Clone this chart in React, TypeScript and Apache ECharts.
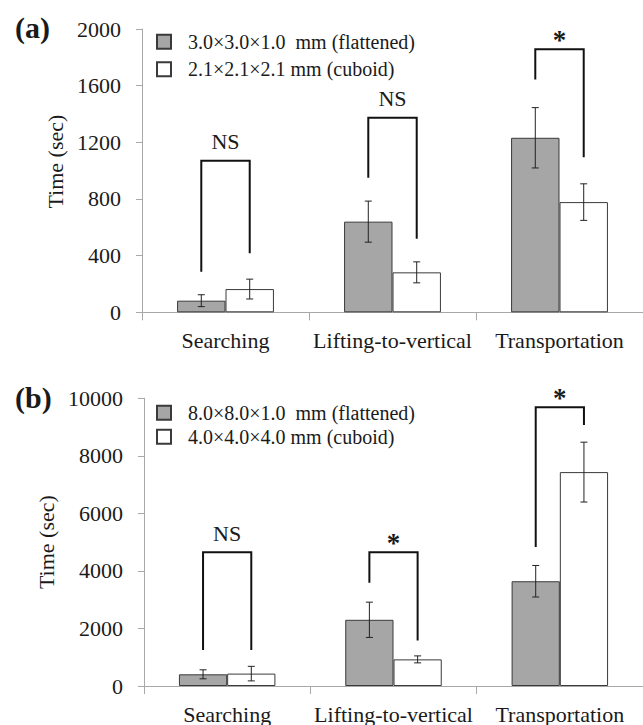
import React, { useEffect, useRef } from "react";
import * as echarts from "echarts";

const categories = ["Searching", "Lifting-to-vertical", "Transportation"];

const namesA = ["3.0×3.0×1.0  mm (flattened)", "2.1×2.1×2.1 mm (cuboid)"];
const namesB = ["8.0×8.0×1.0  mm (flattened)", "4.0×4.0×4.0 mm (cuboid)"];

const flatA = [82, 640, 1232];
const flatErrA = [42, 145, 213];
const cubeA = [164, 282, 778];
const cubeErrA = [70, 74, 129];

const flatB = [406, 2300, 3640];
const flatErrB = [156, 613, 548];
const cubeB = [430, 925, 7432];
const cubeErrB = [253, 121, 1040];

const yAxisA = { min: 0, max: 2000, interval: 400 };
const yAxisB = { min: 0, max: 10000, interval: 2000 };

// [category index, bracket top, left leg bottom, right leg bottom]
const bracketsA = [
  [0, 1070, 287, 416],
  [1, 1373, 950, 519],
  [2, 1857, 1644, 1094],
];
const bracketLabelsA = ["NS", "NS", "*"];
const bracketsB = [
  [0, 4645, 1248, 1248],
  [1, 4645, 3584, 1584],
  [2, 9686, 4832, 9072],
];
const bracketLabelsB = ["NS", "*", "*"];

const FONT = "Liberation Serif";
const TEXT = "#1a1a1a";
const AXIS = "#a8a8a8";
const BAR_FRAC = 0.29;

function errorSeries(idx: number, vals: number[], errs: number[], side: number) {
  return {
    type: "custom",
    xAxisIndex: idx,
    yAxisIndex: idx,
    silent: true,
    z: 5,
    encode: { x: 0, y: [1, 2] },
    data: vals.map((v, i) => [i, v - errs[i], v + errs[i]]),
    renderItem: (_p: any, api: any) => {
      const i = api.value(0);
      const lo = api.coord([i, api.value(1)]);
      const hi = api.coord([i, api.value(2)]);
      const bw = api.size([1, 0])[0] * BAR_FRAC;
      const x = lo[0] + (side * bw) / 2;
      const cap = 3.5;
      const st = { stroke: "#222", lineWidth: 1 };
      return {
        type: "group",
        children: [
          { type: "line", shape: { x1: x, y1: lo[1], x2: x, y2: hi[1] }, style: st },
          { type: "line", shape: { x1: x - cap, y1: lo[1], x2: x + cap, y2: lo[1] }, style: st },
          { type: "line", shape: { x1: x - cap, y1: hi[1], x2: x + cap, y2: hi[1] }, style: st },
        ],
      };
    },
  };
}

function bracketSeries(idx: number, data: number[][], labels: string[]) {
  return {
    type: "custom",
    xAxisIndex: idx,
    yAxisIndex: idx,
    silent: true,
    z: 6,
    encode: { x: 0, y: [1, 2, 3] },
    data,
    renderItem: (p: any, api: any) => {
      const i = api.value(0);
      const top = api.coord([i, api.value(1)]);
      const lb = api.coord([i, api.value(2)]);
      const rb = api.coord([i, api.value(3)]);
      const bw = api.size([1, 0])[0] * BAR_FRAC;
      const xl = top[0] - bw / 2;
      const xr = top[0] + bw / 2;
      const label = labels[p.dataIndex];
      const star = label === "*";
      return {
        type: "group",
        children: [
          {
            type: "polyline",
            shape: { points: [[xl, lb[1]], [xl, top[1]], [xr, top[1]], [xr, rb[1]]] },
            style: { stroke: "#111", lineWidth: 2, fill: "none" },
          },
          {
            type: "text",
            x: top[0],
            y: star ? top[1] - 9 : top[1] - 19,
            style: {
              text: label,
              fontSize: star ? 27 : 22,
              fontWeight: star ? "bold" : "normal",
              fontFamily: FONT,
              fill: TEXT,
              align: "center",
              verticalAlign: "middle",
            },
          },
        ],
      };
    },
  };
}

function barSeries(idx: number, name: string, vals: number[], color: string) {
  return {
    type: "bar",
    name,
    xAxisIndex: idx,
    yAxisIndex: idx,
    data: vals,
    barWidth: BAR_FRAC * 100 + "%",
    barGap: "0%",
    itemStyle: { color, borderColor: "#3a3a3a", borderWidth: 1 },
  };
}

function xAxis(idx: number) {
  return {
    type: "category",
    gridIndex: idx,
    data: categories,
    boundaryGap: true,
    axisLine: { show: true, lineStyle: { color: AXIS, width: 1 } },
    axisTick: { show: true, length: 8, alignWithLabel: false, lineStyle: { color: AXIS } },
    axisLabel: { interval: 0, fontSize: 22, color: TEXT, fontFamily: FONT, margin: 17 },
  };
}

function yAxis(idx: number, cfg: any, pad: number) {
  return {
    type: "value",
    gridIndex: idx,
    min: cfg.min,
    max: cfg.max,
    interval: cfg.interval,
    name: "Time (sec)",
    nameLocation: "middle",
    nameRotate: 90,
    nameGap: 76,
    nameTextStyle: { fontSize: 22, color: TEXT, fontFamily: FONT, padding: [0, 0, 0, pad] },
    splitLine: { show: false },
    axisLine: { show: true, lineStyle: { color: AXIS, width: 1 } },
    axisTick: { show: true, length: 6, lineStyle: { color: AXIS } },
    axisLabel: {
      fontSize: 22,
      color: TEXT,
      fontFamily: FONT,
      margin: 21,
      formatter: (v: number) => String(v),
    },
  };
}

function legend(names: string[], top: number, gap: number) {
  return {
    data: names,
    orient: "vertical",
    left: 156,
    top,
    padding: 0,
    itemGap: gap,
    itemWidth: 14,
    itemHeight: 14,
    icon: "rect",
    textStyle: { fontSize: 20, color: TEXT, fontFamily: FONT, lineHeight: 20, padding: [0, 0, 0, 12] },
    selectedMode: false,
  };
}

export default function App() {
  const ref = useRef<HTMLDivElement>(null);
  useEffect(() => {
    if (!ref.current) return;
    const chart = echarts.init(ref.current, null, { renderer: "svg" });
    chart.setOption({
      animation: false,
      backgroundColor: "#ffffff",
      textStyle: { fontFamily: FONT },
      title: [
        { text: "(a)", left: 15, top: 12, padding: 0, textStyle: { fontSize: 30, fontWeight: "bold", color: TEXT, fontFamily: FONT } },
        { text: "(b)", left: 15, top: 382, padding: 0, textStyle: { fontSize: 30, fontWeight: "bold", color: TEXT, fontFamily: FONT } },
      ],
      legend: [legend(namesA, 31.7, 7.6), legend(namesB, 402.7, 4)],
      grid: [
        { left: 142, top: 29, width: 507, height: 283.3, containLabel: false },
        { left: 144, top: 398.2, width: 504, height: 288.5, containLabel: false },
      ],
      xAxis: [xAxis(0), xAxis(1)],
      yAxis: [yAxis(0, yAxisA, 18), yAxis(1, yAxisB, 0)],
      series: [
        barSeries(0, namesA[0], flatA, "#a6a6a6"),
        barSeries(0, namesA[1], cubeA, "#ffffff"),
        barSeries(1, namesB[0], flatB, "#a6a6a6"),
        barSeries(1, namesB[1], cubeB, "#ffffff"),
        errorSeries(0, flatA, flatErrA, -1),
        errorSeries(0, cubeA, cubeErrA, 1),
        errorSeries(1, flatB, flatErrB, -1),
        errorSeries(1, cubeB, cubeErrB, 1),
        bracketSeries(0, bracketsA, bracketLabelsA),
        bracketSeries(1, bracketsB, bracketLabelsB),
      ],
    });
    return () => chart.dispose();
  }, []);
  return (
    <div
      ref={ref}
      style={{ position: "fixed", left: 0, top: 0, width: 643, height: 725, background: "#fff" }}
    />
  );
}
